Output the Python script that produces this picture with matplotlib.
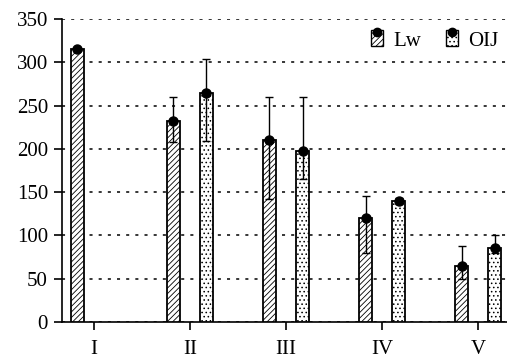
import matplotlib
matplotlib.use("Agg")
import matplotlib.pyplot as plt
import numpy as np
from matplotlib.patches import Rectangle
from matplotlib.lines import Line2D
from matplotlib.legend_handler import HandlerBase

categories = ["I", "II", "III", "IV", "V"]
lw_vals = [315, 232, 210, 120, 65]
lw_upper = [315, 260, 260, 145, 88]
lw_lower = [315, 208, 142, 80, 50]
oij_vals = [np.nan, 265, 198, 140, 85]
oij_upper = [np.nan, 304, 260, 143, 100]
oij_lower = [np.nan, 209, 165, 136, 80]

plt.rcParams['font.family'] = ['Liberation Serif', 'DejaVu Serif']
plt.rcParams['hatch.linewidth'] = 0.6

fig = plt.figure(figsize=(5.07, 3.58), dpi=100)
ax = fig.add_axes([0.122, 0.101, 0.878, 0.846])

x = np.arange(len(categories))
off = 0.172
w = 0.13

def draw_series(xpos, vals, up, lo, hatch):
    vals = np.array(vals, float)
    up = np.array(up, float); lo = np.array(lo, float)
    m = ~np.isnan(vals)
    ax.bar(xpos[m], vals[m], width=w, facecolor='white', edgecolor='black',
           linewidth=1.3, hatch=hatch, zorder=3)
    ax.errorbar(xpos[m], vals[m], yerr=[vals[m] - lo[m], up[m] - vals[m]],
                fmt='o', color='black', markersize=6.5, capsize=3,
                elinewidth=1.0, capthick=1.0, zorder=4)

draw_series(x - off, lw_vals, lw_upper, lw_lower, '//////')
draw_series(x + off, oij_vals, oij_upper, oij_lower, '....')

ax.set_xlim(-0.333, 4.3)
ax.set_ylim(0, 350)
ax.set_yticks(np.arange(0, 351, 50))
ax.set_xticks(x)
ax.set_xticklabels(categories)
ax.yaxis.grid(True, linestyle=(0, (2, 4)), color='black', linewidth=1.1, zorder=0)
ax.set_axisbelow(True)
for s in ['top', 'right']:
    ax.spines[s].set_visible(False)
for s in ['left', 'bottom']:
    ax.spines[s].set_linewidth(1.2)
ax.tick_params(axis='both', labelsize=15, width=1.2, length=6, direction='out')
ax.tick_params(axis='x', pad=7)
ax.tick_params(axis='y', pad=4)


class BarDotHandler(HandlerBase):
    def __init__(self, hatch):
        super().__init__()
        self.hatch = hatch

    def create_artists(self, legend, orig_handle, xdescent, ydescent, width,
                       height, fontsize, trans):
        pw = height * 0.85
        ph = height * 1.05
        x0 = xdescent + (width - pw) / 2
        r = Rectangle((x0, -ydescent), pw, ph, facecolor='white',
                      edgecolor='black', hatch=self.hatch, linewidth=1.0,
                      transform=trans)
        dot = Line2D([x0 + pw / 2], [-ydescent + ph * 0.9], marker='o',
                     color='black', markersize=6, linestyle='none',
                     transform=trans)
        return [r, dot]

h1 = Rectangle((0, 0), 1, 1)
h2 = Rectangle((0, 0), 1, 1)
ax.legend([h1, h2], ["Lw", "OIJ"], loc='upper right', ncol=2, frameon=False,
          fontsize=15, handler_map={h1: BarDotHandler('//////'), h2: BarDotHandler('....')},
          handlelength=0.7, handletextpad=0.45, columnspacing=1.1,
          bbox_to_anchor=(1.0, 0.988), borderaxespad=0.0)

fig.savefig("out.png", dpi=100)
